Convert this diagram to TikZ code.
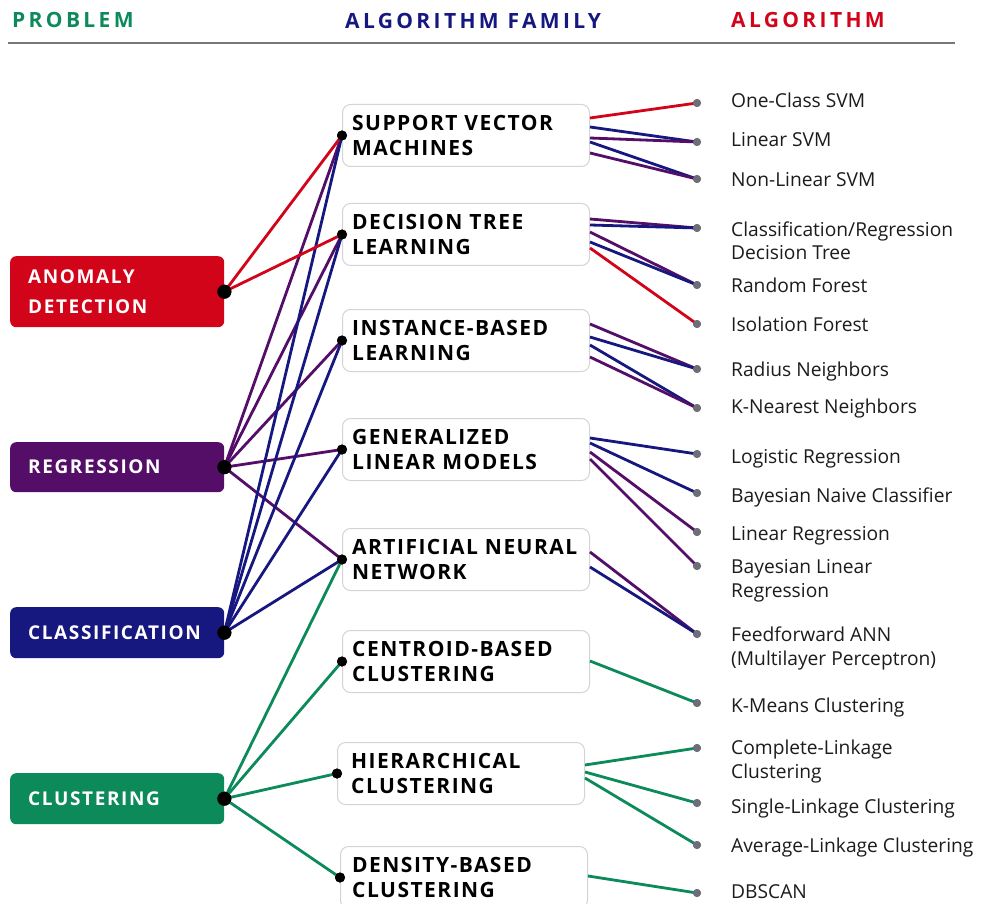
\documentclass[tikz,border=0pt]{standalone}
\usepackage{fontspec}
\setmainfont{Open Sans}
\newfontfamily\probfont[LetterSpace=8.5]{Open Sans}
\newfontfamily\famfont[LetterSpace=7]{Open Sans}
\newfontfamily\headerfont[LetterSpace=16]{Open Sans}

\definecolor{probred}{RGB}{210,4,26}
\definecolor{probpurple}{RGB}{84,14,104}
\definecolor{probnavy}{RGB}{22,24,128}
\definecolor{probgreen}{RGB}{12,138,90}
\definecolor{dotgray}{RGB}{110,110,120}
\definecolor{rulegray}{RGB}{120,120,120}
\definecolor{boxline}{RGB}{212,212,212}
\definecolor{labelink}{RGB}{28,28,28}

\begin{document}
\begin{tikzpicture}[x=1pt,y=-1pt,
  headtext/.style={anchor=base west, inner sep=0pt, font=\headerfont\bfseries\fontsize{21}{25}\selectfont},
  probbox/.style={rounded corners=6pt, minimum width=214pt, inner sep=0pt, anchor=north west},
  probtext/.style={anchor=west, inner sep=0pt, align=left, text=white, font=\probfont\bfseries\fontsize{19}{30}\selectfont},
  fambox/.style={draw=boxline, fill=white, line width=1pt, rounded corners=8pt, minimum width=247pt, minimum height=62pt, inner sep=0pt, anchor=north west},
  famtext/.style={anchor=west, inner sep=0pt, align=left, text=black, font=\famfont\bfseries\fontsize{21}{25}\selectfont},
  algtext/.style={anchor=base west, inner sep=0pt, align=left, text=labelink, font=\fontsize{19.2}{23.5}\selectfont},
  bigdot/.style={circle, fill=black, minimum size=14pt, inner sep=0pt},
  middot/.style={circle, fill=black, minimum size=10pt, inner sep=0pt},
  algdot/.style={circle, fill=dotgray, minimum size=8pt, inner sep=0pt},
  conn/.style={line width=2.8pt},
]
\useasboundingbox (0,0) rectangle (983,904);
\clip (0,0) rectangle (983,904);
\fill[white] (0,0) rectangle (983,904);

% column headers and rule
\node[headtext, text=probgreen] (hprob) at (12,28) {PROBLEM};
\node[headtext, text=probnavy] (hfam) at (345,29) {ALGORITHM FAMILY};
\node[headtext, text=probred] (halg) at (731,28) {ALGORITHM};
\coordinate (rulel) at (8,43);
\coordinate (ruler) at (955,43);
\draw[rulegray, line width=2pt] (rulel) -- (ruler);

% problem boxes
\node[probbox, fill=probred, minimum height=71pt] (anom) at (10,256) {};
\node[probbox, fill=probpurple, minimum height=50pt] (regr) at (10,442) {};
\node[probbox, fill=probnavy, minimum height=51pt] (clas) at (10,607) {};
\node[probbox, fill=probgreen, minimum height=51pt] (clus) at (10,773) {};
\node[probtext] (anomt) at ([xshift=18pt]anom.west) {ANOMALY\\DETECTION};
\node[probtext] (regrt) at ([xshift=18pt]regr.west) {REGRESSION};
\node[probtext] (clast) at ([xshift=18pt]clas.west) {CLASSIFICATION};
\node[probtext] (clust) at ([xshift=18pt]clus.west) {CLUSTERING};

% algorithm family boxes
\node[fambox] (svm) at (342,104) {};
\node[fambox] (dtl) at (342,203) {};
\node[fambox] (ibl) at (342,309) {};
\node[fambox] (glm) at (342,418) {};
\node[fambox] (ann) at (342,528) {};
\node[fambox] (cbc) at (342,630) {};
\node[fambox] (hc) at (337,742) {};
\node[fambox] (dbc) at (340,846) {};
\node[famtext] (svmt) at ([xshift=10pt]svm.west) {SUPPORT VECTOR\\MACHINES};
\node[famtext] (dtlt) at ([xshift=10pt]dtl.west) {DECISION TREE\\LEARNING};
\node[famtext] (iblt) at ([xshift=10pt]ibl.west) {INSTANCE-BASED\\LEARNING};
\node[famtext] (glmt) at ([xshift=10pt]glm.west) {GENERALIZED\\LINEAR MODELS};
\node[famtext] (annt) at ([xshift=10pt]ann.west) {ARTIFICIAL NEURAL\\NETWORK};
\node[famtext] (cbct) at ([xshift=10pt]cbc.west) {CENTROID-BASED\\CLUSTERING};
\node[famtext] (hct) at ([xshift=14pt]hc.west) {HIERARCHICAL\\CLUSTERING};
\node[famtext] (dbct) at ([xshift=12pt]dbc.west) {DENSITY-BASED\\CLUSTERING};

% algorithm end points
\node[algdot] (ocsvm) at (697,103) {};
\node[algdot] (linsvm) at (697,142) {};
\node[algdot] (nlsvm) at (697,179) {};
\node[algdot] (crdt) at (697,228) {};
\node[algdot] (rf) at (697,285) {};
\node[algdot] (isof) at (697,324) {};
\node[algdot] (radn) at (697,369) {};
\node[algdot] (knn) at (697,408) {};
\node[algdot] (logr) at (697,454) {};
\node[algdot] (bnc) at (697,493) {};
\node[algdot] (linr) at (697,532) {};
\node[algdot] (blr) at (697,566) {};
\node[algdot] (ffann) at (697,634) {};
\node[algdot] (kmc) at (697,703) {};
\node[algdot] (clc) at (697,748) {};
\node[algdot] (slc) at (697,803) {};
\node[algdot] (alc) at (697,845) {};
\node[algdot] (dbs) at (697,893) {};

% algorithm names (multi-line names sit on their last baseline)
\node[algtext] (ocsvmt) at (731,108) {One-Class SVM};
\node[algtext] (linsvmt) at (731,147) {Linear SVM};
\node[algtext] (nlsvmt) at (731,187) {Non-Linear SVM};
\node[algtext] (crdtt) at (731,260) {Classification/Regression\\Decision Tree};
\node[algtext] (rft) at (731,293) {Random Forest};
\node[algtext] (isoft) at (731,331) {Isolation Forest};
\node[algtext] (radnt) at (731,376) {Radius Neighbors};
\node[algtext] (knnt) at (731,413) {K-Nearest Neighbors};
\node[algtext] (logrt) at (731,463) {Logistic Regression};
\node[algtext] (bnct) at (731,502) {Bayesian Naive Classifier};
\node[algtext] (linrt) at (731,540) {Linear Regression};
\node[algtext] (blrt) at (731,597) {Bayesian Linear\\Regression};
\node[algtext] (ffannt) at (731,665) {Feedforward ANN\\(Multilayer Perceptron)};
\node[algtext] (kmct) at (731,712) {K-Means Clustering};
\node[algtext] (clct) at (731,778) {Complete-Linkage\\Clustering};
\node[algtext] (slct) at (731,813) {Single-Linkage Clustering};
\node[algtext] (alct) at (731,852) {Average-Linkage Clustering};
\node[algtext] (dbst) at (731,898) {DBSCAN};

% problem dots and family dots
\node[bigdot] (anomd) at (anom.east) {};
\node[bigdot] (regrd) at (regr.east) {};
\node[bigdot] (clasd) at (clas.east) {};
\node[bigdot] (clusd) at (clus.east) {};
\node[middot] (svmd) at (svm.west) {};
\node[middot] (dtld) at (dtl.west) {};
\node[middot] (ibld) at (ibl.west) {};
\node[middot] (glmd) at (glm.west) {};
\node[middot] (annd) at (ann.west) {};
\node[middot] (cbcd) at (cbc.west) {};
\node[middot] (hcd) at (hc.west) {};
\node[middot] (dbcd) at (dbc.west) {};

% problem -> family
\foreach \f in {svmd,dtld,ibld,glmd,annd}
  \draw[conn, probpurple] (regrd.center) -- (\f.center);
\foreach \f in {svmd,dtld,ibld,glmd,annd}
  \draw[conn, probnavy] (clasd.center) -- (\f.center);
\foreach \f in {svmd,dtld}
  \draw[conn, probred] (anomd.center) -- (\f.center);
\foreach \f in {annd,cbcd,hcd,dbcd}
  \draw[conn, probgreen] (clusd.center) -- (\f.center);

% family -> algorithm
\draw[conn, probred] (svm.east |- 0,118) -- (ocsvm.center);
\draw[conn, probnavy] (svm.east |- 0,127) -- (linsvm.center);
\draw[conn, probpurple] (svm.east |- 0,138) -- (linsvm.center);
\draw[conn, probnavy] (svm.east |- 0,142) -- (nlsvm.center);
\draw[conn, probpurple] (svm.east |- 0,153) -- (nlsvm.center);

\draw[conn, probpurple] (dtl.east |- 0,219) -- (crdt.center);
\draw[conn, probnavy] (dtl.east |- 0,225) -- (crdt.center);
\draw[conn, probpurple] (dtl.east |- 0,232) -- (rf.center);
\draw[conn, probnavy] (dtl.east |- 0,242) -- (rf.center);
\draw[conn, probred] (dtl.east |- 0,248) -- (isof.center);

\draw[conn, probpurple] (ibl.east |- 0,324) -- (radn.center);
\draw[conn, probnavy] (ibl.east |- 0,337) -- (radn.center);
\draw[conn, probnavy] (ibl.east |- 0,345) -- (knn.center);
\draw[conn, probpurple] (ibl.east |- 0,357) -- (knn.center);

\draw[conn, probnavy] (glm.east |- 0,438) -- (logr.center);
\draw[conn, probnavy] (glm.east |- 0,443) -- (bnc.center);
\draw[conn, probpurple] (glm.east |- 0,452) -- (linr.center);
\draw[conn, probpurple] (glm.east |- 0,459) -- (blr.center);

\draw[conn, probpurple] (ann.east |- 0,552) -- (ffann.center);
\draw[conn, probnavy] (ann.east |- 0,567) -- (ffann.center);

\draw[conn, probgreen] (cbc.east |- 0,661) -- (kmc.center);
\draw[conn, probgreen] (hc.east |- 0,765) -- (clc.center);
\draw[conn, probgreen] (hc.east |- 0,772) -- (slc.center);
\draw[conn, probgreen] (hc.east |- 0,778) -- (alc.center);
\draw[conn, probgreen] (dbc.east |- 0,876) -- (dbs.center);

% dots on top of the connectors
\foreach \d in {anomd,regrd,clasd,clusd}
  \fill[black] (\d) circle (7pt);
\foreach \d in {svmd,dtld,ibld,glmd,annd,cbcd,hcd,dbcd}
  \fill[black] (\d) circle (5pt);
\foreach \d in {ocsvm,linsvm,nlsvm,crdt,rf,isof,radn,knn,logr,bnc,linr,blr,ffann,kmc,clc,slc,alc,dbs}
  \fill[dotgray] (\d) circle (4pt);
\end{tikzpicture}
\end{document}
